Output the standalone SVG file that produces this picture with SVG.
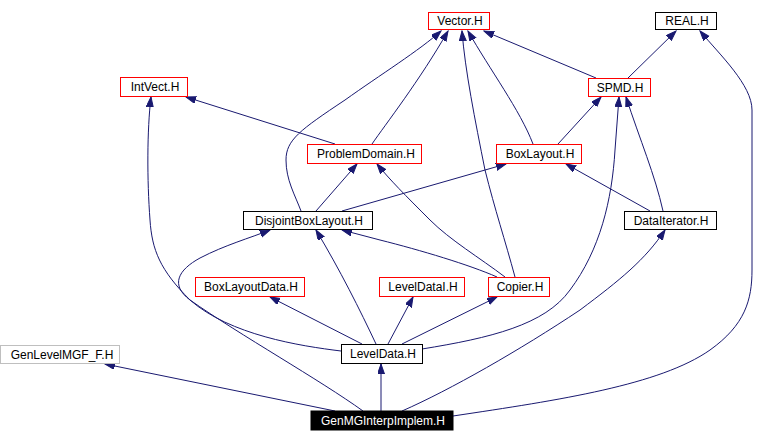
<svg xmlns="http://www.w3.org/2000/svg" width="768" height="442" viewBox="0 0 768 442">
<style>
.n rect{fill:#fff;stroke:#000;stroke-width:1}
.n.r rect{stroke:#f00}
.n.g rect{stroke:#bfbfbf}
.n.b rect{fill:#000}
.n text{font-family:"Liberation Sans",Arial,sans-serif;font-size:12px;text-anchor:middle;fill:#000}
.n.b text{fill:#fff}
#edges path{fill:none;stroke:#191970;stroke-width:1;marker-end:url(#ah)}
</style>
<defs>
<marker id="ah" markerUnits="userSpaceOnUse" markerWidth="11" markerHeight="8" refX="10" refY="3.5" orient="auto">
<path d="M0,0 L10,3.5 L0,7 z" fill="#191970" stroke="#191970" stroke-width="1"/>
</marker>
</defs>
<rect width="768" height="442" fill="#fff"/>
<g id="edges">
<path d="M596,78 L484,31"/>
<path d="M628,78 L676,31"/>
<path d="M453,416 C560,400 660,385 710,350 C745,325 752,300 752,270 L752,110 C752,85 720,55 700,31"/>
<path d="M335,144 L186,97"/>
<path d="M372,144 C385,125 420,80 448,31"/>
<path d="M301,211 C295,195 286,180 286,160 C286,140 300,130 345,100 C380,75 420,50 441,31"/>
<path d="M316,211 L357,164"/>
<path d="M342,211 L506,164"/>
<path d="M505,277 C480,258 450,240 430,220 C405,195 390,180 377,164"/>
<path d="M515,277 C505,240 495,210 485,170 C475,120 465,70 462,31"/>
<path d="M533,144 C520,110 490,70 468,31"/>
<path d="M558,144 L601,97"/>
<path d="M650,211 L566,164"/>
<path d="M663,211 C655,175 640,140 626,97"/>
<path d="M422,349 C490,338 545,325 570,290 C600,250 612,200 615,150 L619,97"/>
<path d="M497,277 C470,265 420,250 380,240 L342,230"/>
<path d="M376,344 C360,310 340,270 316,230"/>
<path d="M363,411 C320,380 240,335 190,300 C170,285 178,270 200,258 C225,245 250,238 270,230"/>
<path d="M341,351 C300,346 230,335 190,300 C160,270 152,250 150,220 C147,180 147,130 151,97"/>
<path d="M362,344 L270,297"/>
<path d="M388,344 L413,297"/>
<path d="M402,344 L497,297"/>
<path d="M381,411 L381,364"/>
<path d="M335,411 L105,364"/>
<path d="M402,411 C450,390 520,350 580,310 C620,280 645,260 665,230"/>
</g>
<g id="vector" class="n r"><rect x="428.5" y="12.5" width="61" height="17"/><text x="460" y="25">Vector.H</text></g>
<g id="real" class="n"><rect x="655.5" y="12.5" width="61" height="17"/><text x="687" y="25">REAL.H</text></g>
<g id="spmd" class="n r"><rect x="588.5" y="78.5" width="62" height="18"/><text x="620" y="92">SPMD.H</text></g>
<g id="intvect" class="n r"><rect x="120.5" y="77.5" width="67" height="19"/><text x="155" y="91">IntVect.H</text></g>
<g id="problemdomain" class="n r"><rect x="307.5" y="144.5" width="114" height="19"/><text x="366" y="158">ProblemDomain.H</text></g>
<g id="boxlayout" class="n r"><rect x="496.5" y="144.5" width="85" height="19"/><text x="540" y="158">BoxLayout.H</text></g>
<g id="disjointboxlayout" class="n"><rect x="243.5" y="211.5" width="129" height="18"/><text x="309" y="225">DisjointBoxLayout.H</text></g>
<g id="dataiterator" class="n"><rect x="624.5" y="211.5" width="92" height="18"/><text x="671" y="225">DataIterator.H</text></g>
<g id="boxlayoutdata" class="n r"><rect x="195.5" y="277.5" width="109" height="19"/><text x="251" y="291">BoxLayoutData.H</text></g>
<g id="leveldatai" class="n r"><rect x="379.5" y="277.5" width="85" height="19"/><text x="423" y="291">LevelDataI.H</text></g>
<g id="copier" class="n r"><rect x="488.5" y="277.5" width="61" height="19"/><text x="520" y="291">Copier.H</text></g>
<g id="leveldata" class="n"><rect x="341.5" y="344.5" width="81" height="19"/><text x="383" y="358">LevelData.H</text></g>
<g id="genlevelmgf" class="n g"><rect x="0.5" y="345.5" width="119" height="18"/><text x="62" y="359">GenLevelMGF_F.H</text></g>
<g id="genmginterpimplem" class="n b"><rect x="311" y="411" width="142" height="19"/><text x="383" y="425">GenMGInterpImplem.H</text></g>
</svg>
